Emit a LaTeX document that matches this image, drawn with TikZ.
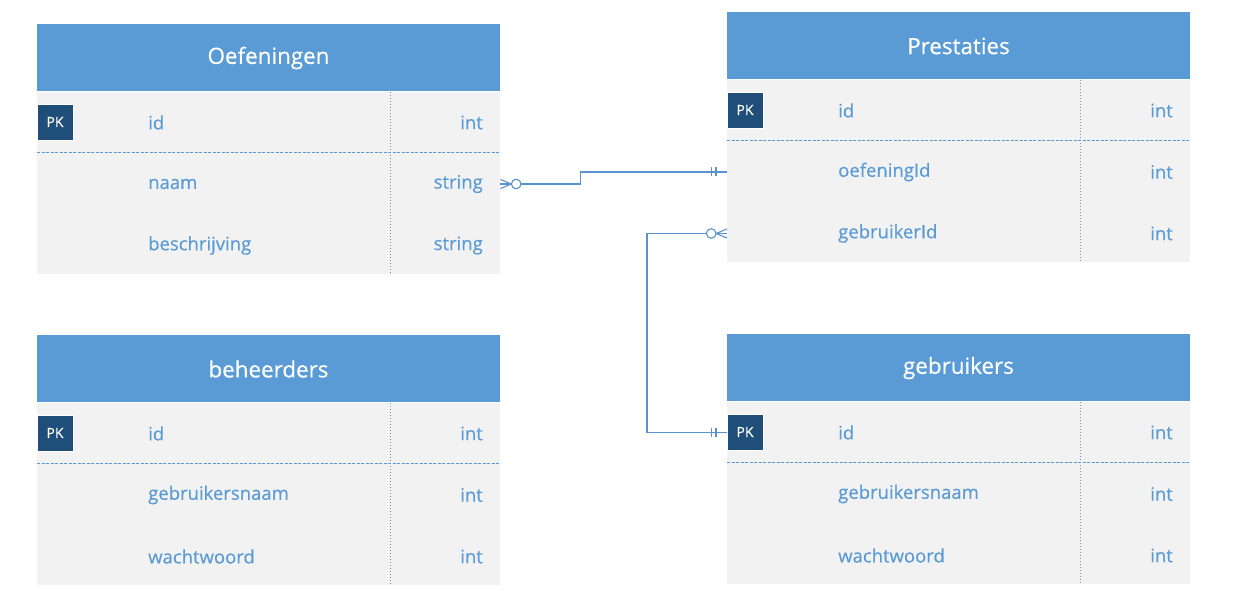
\documentclass[tikz,border=0pt]{standalone}
\usepackage{fontspec}
\setmainfont{Open Sans}
\newfontfamily\bodyfont[FakeBold=0.4]{Open Sans}
\usetikzlibrary{calc}
\definecolor{hdrblue}{HTML}{5B9BD5}
\definecolor{bodygray}{HTML}{F2F2F2}
\definecolor{pkblue}{HTML}{1F4E79}
\definecolor{linkblue}{HTML}{5A92CF}
\tikzset{
  hdrfill/.style={fill=hdrblue},
  bodyfill/.style={fill=bodygray},
  hdrtext/.style={text=white,font=\bodyfont\fontsize{22.4}{26}\selectfont,inner sep=0pt},
  colname/.style={text=hdrblue,font=\bodyfont\fontsize{18.5}{22}\selectfont,anchor=west,inner sep=0pt},
  coltype/.style={text=hdrblue,font=\bodyfont\fontsize{18.5}{22}\selectfont,anchor=east,inner sep=0pt},
  rowanchor/.style={rectangle,inner sep=0pt,minimum width=463pt,minimum height=2pt,anchor=west},
  pkbox/.style={fill=pkblue,draw=white,line width=0.8pt,minimum size=36pt,inner sep=0pt,text=white,font=\bodyfont\fontsize{14}{16}\selectfont},
  hsep/.style={draw=hdrblue,line width=1pt,dash pattern=on 3pt off 1.5pt},
  vsep/.style={draw=hdrblue,line width=1pt,dash pattern=on 1pt off 2pt},
  conn/.style={draw=linkblue,line width=1.1pt},
}
\newcommand\ertab[5]{%
  \fill[hdrfill] (#2,#3) rectangle ++(463,67);
  \node[hdrtext] (#1-h) at (#2+231.5,#3+34) {#4};
  \fill[bodyfill] (#2,#3+68) rectangle ++(463,182);
  \draw[hsep] (#2,#3+128.5) -- ++(463,0);
  \draw[vsep] (#2+353,#3+68) -- ++(0,182);
  \node[pkbox] (#1-pk) at (#2+18,#3+98) {PK};
  \foreach \cn/\ct [count=\i] in {#5} {
    \node[rowanchor] (#1-r\i) at (#2,#3+98.5+61.5*\i-61.5) {};
    \node[colname] (#1-n\i) at (#2+111,#3+98.5+61.5*\i-61.5) {\cn};
    \node[coltype] (#1-t\i) at (#2+446,#3+98.5+61.5*\i-61.5) {\ct};
  }
}
% zero-or-many; #1 anchor, #2 direction (+1 = outward to the right, -1 = to the left)
\newcommand\zeromany[2]{%
  \draw[conn] ($(#1)+(0,-4.5)$) -- ($(#1)+(#2*11,0)$) -- ($(#1)+(0,4.5)$);
  \draw[conn] (#1) -- ($(#1)+(#2*11,0)$);
  \draw[conn,fill=white] ($(#1)+(#2*15.8,0)$) circle (4.8pt);
}
% one-and-only-one
\newcommand\onlyone[2]{%
  \draw[conn] ($(#1)+(#2*11,-4.5)$) -- ++(0,9);
  \draw[conn] ($(#1)+(#2*15.5,-4.5)$) -- ++(0,9);
}
\begin{document}
\begin{tikzpicture}[x=1pt,y=-1pt]
\useasboundingbox[fill=white] (0,0) rectangle (1239,604);
\ertab{oef}{37}{24}{Oefeningen}{id/int,naam/string,beschrijving/string}
\ertab{pre}{727}{12}{Prestaties}{id/int,oefeningId/int,gebruikerId/int}
\ertab{beh}{37}{335}{beheerders}{id/int,gebruikersnaam/int,wachtwoord/int}
\ertab{geb}{727}{334}{gebruikers}{id/int,gebruikersnaam/int,wachtwoord/int}
% connectors
\draw[conn] (oef-r2.east) -- ++(80,0) |- (pre-r2.west);
\draw[conn] (pre-r3.west) -- ++(-80,0) |- (geb-r1.west);
\zeromany{oef-r2.east}{1}
\onlyone{pre-r2.west}{-1}
\zeromany{pre-r3.west}{-1}
\onlyone{geb-r1.west}{-1}
\end{tikzpicture}
\end{document}
